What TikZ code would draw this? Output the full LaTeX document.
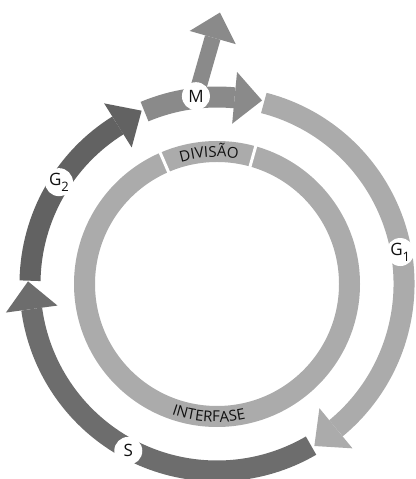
\documentclass[tikz,border=0pt]{standalone}
\usepackage{fontspec}
\setmainfont{Open Sans}
\usetikzlibrary{calc,decorations.text}
\definecolor{cLight}{HTML}{ABABAB}
\definecolor{cMid}{HTML}{8A8A8A}
\definecolor{cGtwo}{HTML}{626262}
\definecolor{cS}{HTML}{6D6D6D}
\definecolor{cTxt}{HTML}{111111}
\newcommand{\lsub}[1]{\raisebox{-6pt}{\fontsize{13pt}{13pt}\selectfont #1}}
\newcommand{\ringfont}{\fontsize{15pt}{15pt}\selectfont\color{cTxt}}
\begin{document}
\begin{tikzpicture}[x=1pt,y=1pt,
  band/.style={line width=21pt},
  ringband/.style={line width=21pt, draw=cLight},
  lab/.style={circle, fill=white, minimum size=28pt, inner sep=0pt, text=cTxt,
              font=\fontsize{17pt}{17pt}\selectfont},
  gapline/.style={draw=white, line width=3pt}]
\useasboundingbox (0,0) rectangle (415,479);
\begin{scope}[shift={(217,195)}]
  \coordinate (O) at (0,0);
  % inner ring
  \draw[ringband] (O) circle[radius=132.5pt];
  \draw[gapline] (74.3:119) -- (74.3:146);
  \draw[gapline] (113.4:119) -- (113.4:146);
  \path[decorate, decoration={text along path, text align=center,
        text={|\ringfont|DIVISÃO}}]
        (123.5:127) arc[start angle=123.5, end angle=63.5, radius=127pt];
  \path[decorate, decoration={text along path, text align=center,
        text={|\ringfont|INTERFASE}}]
        (-123.6:138) arc[start angle=-123.6, end angle=-63.6, radius=138pt];
  % outer cycle
  \draw[band, cLight] (75.5:187) arc[start angle=75.5, end angle=-50.5, radius=187pt];
  \fill[cLight] (-50.5:161) -- (-59:189) -- (-50.5:213) -- cycle;
  \draw[band, cS] (-59.8:187) arc[start angle=-59.8, end angle=-172.3, radius=187pt];
  \fill[cS] (-172.3:161) -- (-180.8:189) -- (-172.3:213) -- cycle;
  \draw[band, cGtwo] (179:187) arc[start angle=179, end angle=122, radius=187pt];
  \fill[cGtwo] (122:161) -- (113.5:189) -- (122:213) -- cycle;
  \draw[band, cMid] (112.8:187) arc[start angle=112.8, end angle=84.6, radius=187pt];
  \fill[cMid] (84.6:161) -- (76.2:189) -- (84.6:213) -- cycle;
  % exit arrow from M
  \coordinate (Mc) at (96.4:189);
  \coordinate (Mb) at ($(Mc)+(74:61)$);
  \draw[line width=16pt, cMid] (Mc) -- (Mb);
  \fill[cMid] ($(Mb)+(-16:24)$) -- ($(Mb)+(74:26)$) -- ($(Mb)+(164:24)$) -- cycle;
  % labels
  \node[lab] (M) at (Mc) {M};
  \node[lab] (G1) at (9.9:186) {G\lsub{1}};
  \node[lab] (G2) at (147.2:188) {G\lsub{2}};
  \node[lab] (S) at (-118:189) {S};
\end{scope}
\end{tikzpicture}
\end{document}
